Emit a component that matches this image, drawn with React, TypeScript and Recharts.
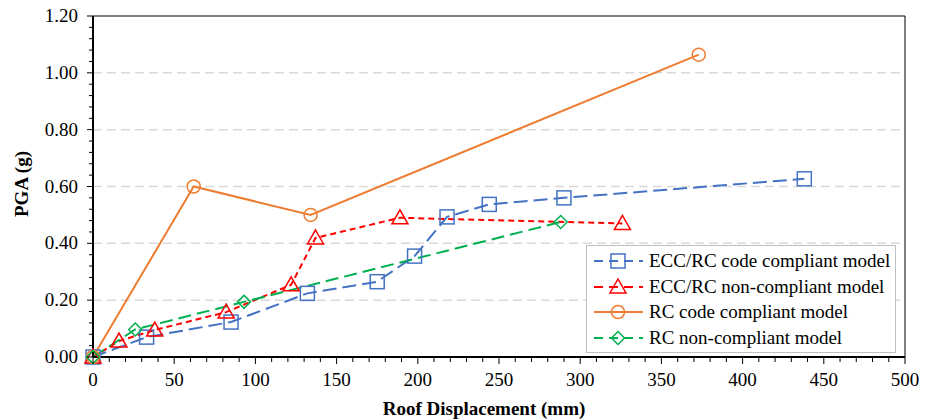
import React from 'react';
import { LineChart, Line, XAxis, YAxis, ReferenceLine, Legend } from 'recharts';

// roof displacement (mm) vs PGA (g)
const eccCode = [
  { x: 0, y: 0 }, { x: 33, y: 0.07 }, { x: 85, y: 0.123 }, { x: 132, y: 0.224 },
  { x: 175, y: 0.265 }, { x: 198, y: 0.355 }, { x: 218, y: 0.493 }, { x: 244, y: 0.537 },
  { x: 290, y: 0.56 }, { x: 438, y: 0.627 },
];
const eccNon = [
  { x: 0, y: 0 }, { x: 16, y: 0.056 }, { x: 38, y: 0.095 }, { x: 82, y: 0.158 },
  { x: 122, y: 0.254 }, { x: 137, y: 0.419 }, { x: 189, y: 0.49 }, { x: 326, y: 0.47 },
];
const rcCode = [
  { x: 0, y: 0 }, { x: 62, y: 0.6 }, { x: 134, y: 0.5 }, { x: 373, y: 1.064 },
];
const rcNon = [
  { x: 0, y: 0 }, { x: 26, y: 0.097 }, { x: 93, y: 0.194 }, { x: 288, y: 0.475 },
];

const xMajor = [0, 50, 100, 150, 200, 250, 300, 350, 400, 450, 500];
const yMajor = [0, 0.2, 0.4, 0.6, 0.8, 1.0, 1.2];
const yLabels = ['0.00', '0.20', '0.40', '0.60', '0.80', '1.00', '1.20'];
const xTicks = Array.from({ length: 51 }, (_, i) => i * 10);
const yTicks = Array.from({ length: 31 }, (_, i) => Math.round(i * 4) / 100);

const series = [
  { name: 'ECC/RC code compliant model', data: eccCode, color: '#4472C4', dash: '14 6', shape: 'square', width: 2 },
  { name: 'ECC/RC non-compliant model', data: eccNon, color: '#FF0000', dash: '6 4', shape: 'triangle', width: 2 },
  { name: 'RC code compliant model', data: rcCode, color: '#ED7D31', dash: undefined, shape: 'circle', width: 2 },
  { name: 'RC non-compliant model', data: rcNon, color: '#00B050', dash: '13 6', shape: 'diamond', width: 2 },
];

const font = '"Liberation Serif", "Times New Roman", serif';
const txt = { fontFamily: font, fontSize: 19, fill: '#000' };

function Marker({ shape, cx, cy, color }: any) {
  const common = { fill: 'none', stroke: color, strokeWidth: 1.5 };
  if (shape === 'square') return <rect x={cx - 7} y={cy - 7} width={14} height={14} {...common} />;
  if (shape === 'triangle') return <polygon points={`${cx},${cy - 8} ${cx - 8},${cy + 6} ${cx + 8},${cy + 6}`} {...common} />;
  if (shape === 'circle') return <circle cx={cx} cy={cy} r={6.5} {...common} />;
  return <polygon points={`${cx},${cy - 6.5} ${cx + 6.5},${cy} ${cx},${cy + 6.5} ${cx - 6.5},${cy}`} {...common} />;
}

const makeDot = (shape: string, color: string) => (props: any) => {
  const { cx, cy, index } = props;
  return <Marker key={index} shape={shape} cx={cx} cy={cy} color={color} />;
};

const XTick = (props: any) => {
  const { x, y, payload } = props;
  const major = xMajor.includes(payload.value);
  return (
    <g>
      <line x1={x} x2={x} y1={y} y2={y + (major ? 7 : 5)} stroke="#000" strokeWidth={1} />
      {major && (
        <text x={x} y={y + 29} textAnchor="middle" style={txt}>
          {payload.value}
        </text>
      )}
    </g>
  );
};

const YTick = (props: any) => {
  const { x, y, payload } = props;
  const idx = yMajor.findIndex((v) => Math.abs(v - payload.value) < 1e-6);
  const major = idx >= 0;
  return (
    <g>
      <line x1={x} x2={x - (major ? 6 : 4)} y1={y} y2={y} stroke="#000" strokeWidth={1} />
      {major && (
        <text x={x - 15} y={y + 6} textAnchor="end" style={txt}>
          {yLabels[idx]}
        </text>
      )}
    </g>
  );
};

const renderLegend = () => (
  <div
    style={{
      border: '1.5px solid #bfbfbf',
      background: '#fff',
      padding: '2px 6px',
      fontFamily: font,
      fontSize: 19,
      color: '#000',
      boxSizing: 'border-box',
      width: 310,
      height: 108,
    }}
  >
    {series.map((s) => (
      <div key={s.name} style={{ display: 'flex', alignItems: 'center', height: 25.8, whiteSpace: 'nowrap' }}>
        <svg width={52} height={20} style={{ marginRight: 4, flexShrink: 0 }}>
          <line x1={1} x2={50} y1={10} y2={10} stroke={s.color} strokeWidth={2} strokeDasharray={s.dash ? '9 6' : undefined} />
          <Marker shape={s.shape} cx={25} cy={10} color={s.color} />
        </svg>
        <span>{s.name}</span>
      </div>
    ))}
  </div>
);

export default function App() {
  return (
    <div style={{ position: 'absolute', left: 0, top: 0, background: '#fff' }}>
      <LineChart width={931} height={420} margin={{ top: 16, right: 26, bottom: 0, left: 0 }}>
        {[0.2, 0.4, 0.6, 0.8, 1.0].map((v) => (
          <ReferenceLine key={v} y={v} stroke="#d9d9d9" strokeWidth={1.5} strokeDasharray="9 5" />
        ))}
        <ReferenceLine y={1.2} stroke="#000" strokeWidth={1} />
        <ReferenceLine x={500} stroke="#000" strokeWidth={1} />
        <XAxis
          type="number"
          dataKey="x"
          domain={[0, 500]}
          ticks={xTicks}
          interval={0}
          height={63}
          tickSize={0}
          tickMargin={0}
          tickLine={false}
          axisLine={{ stroke: '#000', strokeWidth: 2 }}
          tick={<XTick />}
          label={{
            content: () => (
              <text x={484} y={415} textAnchor="middle" style={{ ...txt, fontWeight: 'bold' }}>
                Roof Displacement (mm)
              </text>
            ),
          }}
        />
        <YAxis
          type="number"
          domain={[0, 1.2]}
          ticks={yTicks}
          interval={0}
          width={93}
          tickSize={0}
          tickMargin={0}
          tickLine={false}
          axisLine={{ stroke: '#000', strokeWidth: 2 }}
          tick={<YTick />}
          label={{
            content: () => (
              <text
                x={28}
                y={184}
                transform="rotate(-90 28 184)"
                textAnchor="middle"
                style={{ ...txt, fontWeight: 'bold' }}
              >
                PGA (g)
              </text>
            ),
          }}
        />
        {series.map((s) => (
          <Line
            key={s.name}
            data={s.data}
            dataKey="y"
            name={s.name}
            type="linear"
            stroke={s.color}
            strokeWidth={s.width}
            strokeDasharray={s.dash}
            dot={makeDot(s.shape, s.color)}
            activeDot={false}
            isAnimationActive={false}
          />
        ))}
        <Legend
          layout="horizontal"
          verticalAlign="middle"
          align="center"
          content={renderLegend}
          wrapperStyle={{ position: 'absolute', left: 586, top: 245, width: 310, height: 108 }}
        />
      </LineChart>
    </div>
  );
}
